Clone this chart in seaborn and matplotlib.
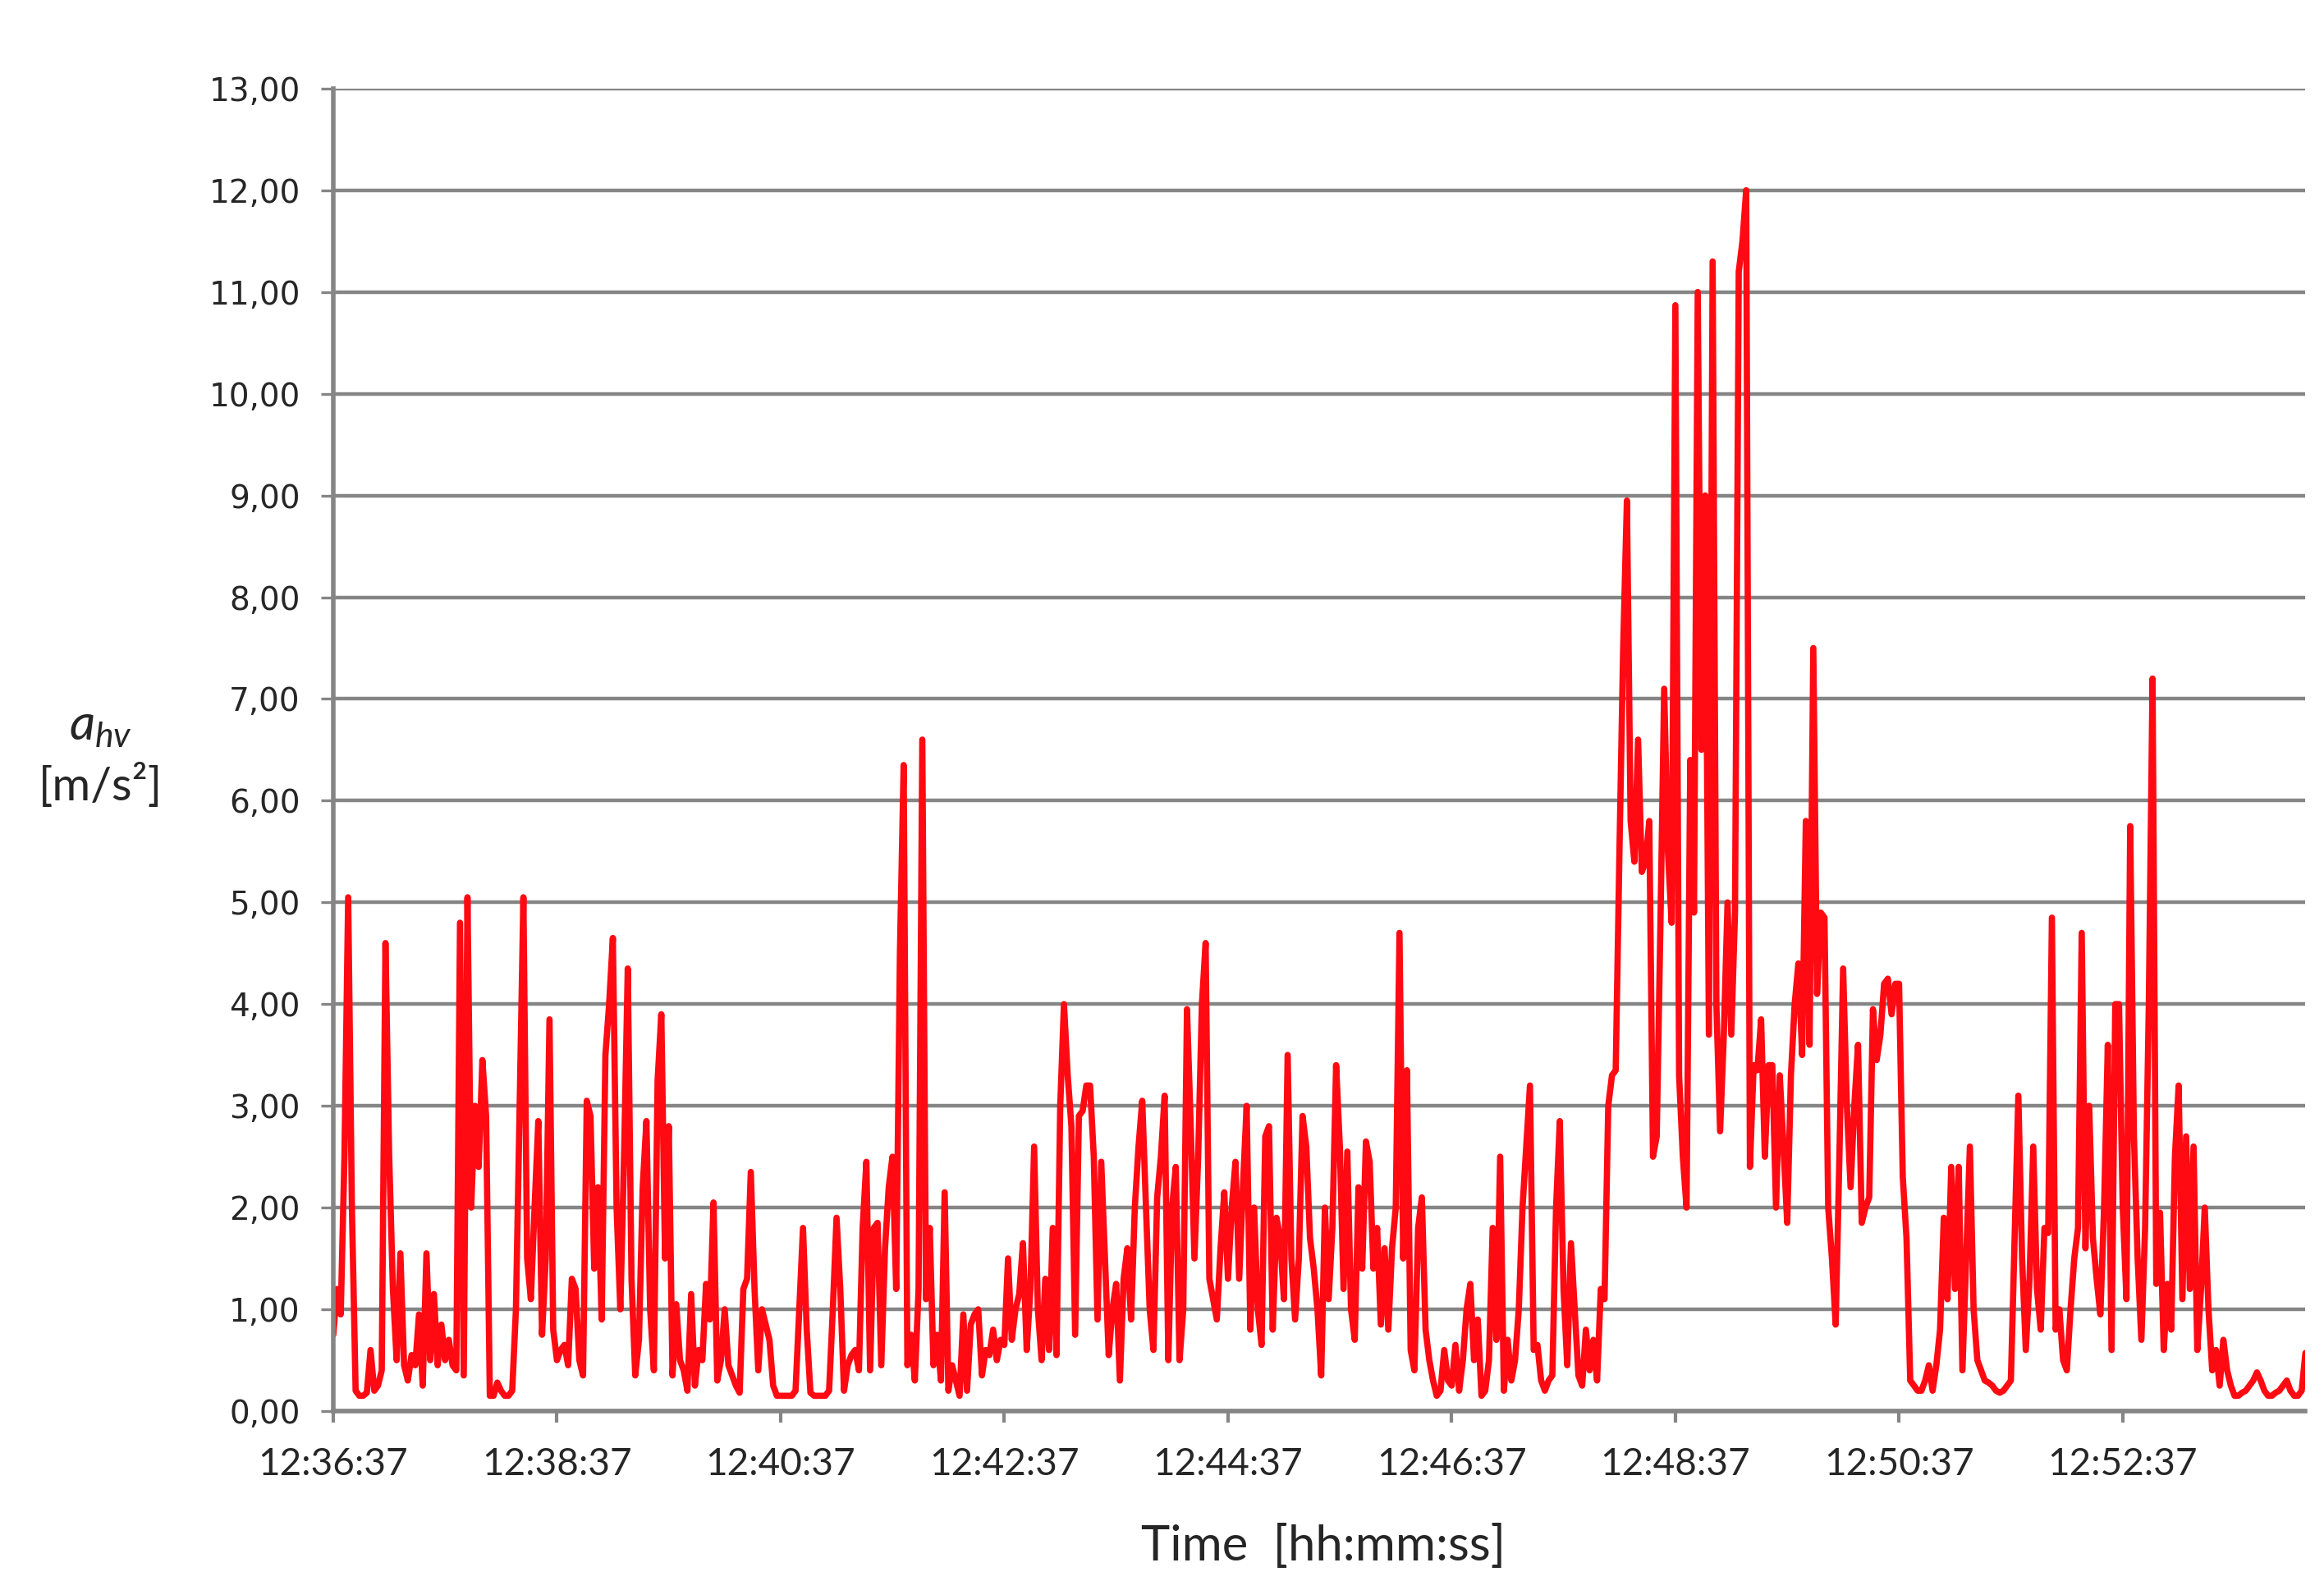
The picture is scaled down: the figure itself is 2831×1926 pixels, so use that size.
import matplotlib
matplotlib.use("Agg")
import matplotlib.pyplot as plt
import matplotlib.dates as mdates
from matplotlib.ticker import FixedLocator, FuncFormatter
import numpy as np
import pandas as pd
import seaborn as sns

# Messreihe a_hv, ein Wert alle 2 s ab 12:36:37
START = "12:36:37"
STEP_S = 2

seg_1236 = [0.75, 1.2, 0.95, 2.5, 5.05, 2.0, 0.2, 0.15, 0.15, 0.18,
            0.6, 0.2, 0.25, 0.4, 4.6, 2.5, 1.2, 0.5, 1.55, 0.45,
            0.3, 0.55, 0.45, 0.95, 0.25, 1.55, 0.5, 1.15, 0.45, 0.85,
            0.5, 0.7, 0.45, 0.4, 4.8, 0.35, 5.05, 2.0, 3.0, 2.4,
            3.45, 2.9, 0.15, 0.15, 0.28, 0.2, 0.15, 0.15, 0.2, 1.0,
            3.0, 5.05, 1.5, 1.1, 2.0, 2.85, 0.75, 1.5, 3.85, 0.8]
seg_1238 = [0.5, 0.6, 0.65, 0.45, 1.3, 1.2, 0.5, 0.35, 3.05, 2.9,
            1.4, 2.2, 0.9, 3.5, 4.0, 4.65, 2.0, 1.0, 2.5, 4.35,
            1.3, 0.35, 0.7, 2.2, 2.85, 1.0, 0.4, 3.25, 3.9, 1.5,
            2.8, 0.35, 1.05, 0.5, 0.4, 0.2, 1.15, 0.25, 0.6, 0.5,
            1.25, 0.9, 2.05, 0.3, 0.5, 1.0, 0.45, 0.35, 0.25, 0.18,
            1.2, 1.3, 2.35, 1.2, 0.4, 1.0, 0.85, 0.7, 0.25, 0.15]
seg_1240 = [0.15, 0.15, 0.15, 0.15, 0.2, 1.0, 1.8, 0.8, 0.18, 0.15,
            0.15, 0.15, 0.15, 0.2, 1.0, 1.9, 1.2, 0.2, 0.45, 0.55,
            0.6, 0.4, 1.8, 2.45, 0.4, 1.8, 1.85, 0.45, 1.6, 2.2,
            2.5, 1.2, 4.5, 6.35, 0.45, 0.75, 0.3, 1.2, 6.6, 1.1,
            1.8, 0.45, 0.75, 0.3, 2.15, 0.2, 0.45, 0.3, 0.15, 0.95,
            0.2, 0.85, 0.95, 1.0, 0.35, 0.6, 0.55, 0.8, 0.5, 0.7]
seg_1242 = [0.65, 1.5, 0.7, 1.0, 1.15, 1.65, 0.6, 1.2, 2.6, 1.0,
            0.5, 1.3, 0.6, 1.8, 0.55, 3.0, 4.0, 3.3, 2.8, 0.75,
            2.9, 2.95, 3.2, 3.2, 2.5, 0.9, 2.45, 1.5, 0.55, 1.0,
            1.25, 0.3, 1.3, 1.6, 0.9, 2.0, 2.6, 3.05, 2.0, 1.0,
            0.6, 2.1, 2.5, 3.1, 0.5, 2.0, 2.4, 0.5, 1.0, 3.95,
            2.8, 1.5, 2.5, 4.0, 4.6, 1.3, 1.1, 0.9, 1.6, 2.15]
seg_1244 = [1.3, 2.0, 2.45, 1.3, 2.2, 3.0, 0.8, 2.0, 1.0, 0.65,
            2.7, 2.8, 0.8, 1.9, 1.7, 1.1, 3.5, 1.5, 0.9, 1.5,
            2.9, 2.6, 1.7, 1.4, 1.0, 0.35, 2.0, 1.1, 1.8, 3.4,
            2.6, 1.2, 2.55, 1.0, 0.7, 2.2, 1.4, 2.65, 2.45, 1.4,
            1.8, 0.85, 1.6, 0.8, 1.6, 2.0, 4.7, 1.5, 3.35, 0.6,
            0.4, 1.8, 2.1, 0.8, 0.5, 0.3, 0.15, 0.2, 0.6, 0.3]
seg_1246 = [0.25, 0.65, 0.2, 0.5, 1.0, 1.25, 0.5, 0.9, 0.15, 0.2,
            0.5, 1.8, 0.7, 2.5, 0.2, 0.7, 0.3, 0.5, 1.0, 2.0,
            2.6, 3.2, 0.6, 0.65, 0.3, 0.2, 0.3, 0.35, 2.0, 2.85,
            1.2, 0.45, 1.65, 1.0, 0.35, 0.25, 0.8, 0.4, 0.7, 0.3,
            1.2, 1.1, 3.0, 3.3, 3.35, 5.5, 7.5, 8.95, 5.8, 5.4,
            6.6, 5.3, 5.4, 5.8, 2.5, 2.7, 4.8, 7.1, 5.5, 4.8]
seg_1248 = [10.87, 3.3, 2.5, 2.0, 6.4, 4.9, 11.0, 6.5, 9.0, 3.7,
            11.3, 4.0, 2.75, 3.7, 5.0, 3.7, 4.9, 11.2, 11.5, 12.0,
            2.4, 3.4, 3.35, 3.85, 2.5, 3.4, 3.4, 2.0, 3.3, 2.6,
            1.85, 3.3, 4.0, 4.4, 3.5, 5.8, 3.6, 7.5, 4.1, 4.9,
            4.85, 2.0, 1.5, 0.85, 2.5, 4.35, 3.0, 2.2, 3.0, 3.6,
            1.85, 2.0, 2.1, 3.95, 3.45, 3.7, 4.2, 4.25, 3.9, 4.2]
seg_1250 = [4.2, 2.3, 1.7, 0.3, 0.25, 0.2, 0.2, 0.3, 0.45, 0.2,
            0.45, 0.8, 1.9, 1.1, 2.4, 1.2, 2.4, 0.4, 1.5, 2.6,
            1.0, 0.5, 0.4, 0.3, 0.28, 0.25, 0.2, 0.18, 0.2, 0.25,
            0.3, 1.7, 3.1, 1.5, 0.6, 1.3, 2.6, 1.2, 0.8, 1.8,
            1.75, 4.85, 0.8, 1.0, 0.5, 0.4, 1.0, 1.5, 1.8, 4.7,
            1.6, 3.0, 1.7, 1.3, 0.95, 2.0, 3.6, 0.6, 4.0, 4.0]
seg_1252 = [2.0, 1.1, 5.75, 2.7, 1.5, 0.7, 1.8, 4.0, 7.2, 1.25,
            1.95, 0.6, 1.25, 0.8, 2.5, 3.2, 1.1, 2.7, 1.2, 2.6,
            0.6, 1.2, 2.0, 1.0, 0.4, 0.6, 0.25, 0.7, 0.4, 0.25,
            0.15, 0.15, 0.18, 0.2, 0.25, 0.3, 0.38, 0.3, 0.2, 0.15,
            0.15, 0.18, 0.2, 0.25, 0.3, 0.2, 0.15, 0.15, 0.2, 0.57]

X_TICK_LABELS = ["12:36:37", "12:38:37", "12:40:37", "12:42:37", "12:44:37",
                 "12:46:37", "12:48:37", "12:50:37", "12:52:37"]
Y_TICKS = list(range(0, 14))

values = np.array(seg_1236 + seg_1238 + seg_1240 + seg_1242 + seg_1244
                  + seg_1246 + seg_1248 + seg_1250 + seg_1252)
t0 = pd.Timestamp("2000-01-01 " + START)
times = t0 + pd.to_timedelta(np.arange(len(values)) * STEP_S, unit="s")
df = pd.DataFrame({"time": times, "ahv": values})

sns.set_theme(style="white")
plt.rcParams["font.family"] = ["Lato", "DejaVu Sans"]
plt.rcParams["mathtext.fontset"] = "custom"
plt.rcParams["mathtext.rm"] = "Lato"
plt.rcParams["mathtext.it"] = "Lato:italic"

GRID = "#858585"

fig = plt.figure(figsize=(28.31, 19.26), dpi=100)
ax = fig.add_axes([0.1434, 0.1075, 0.8486, 0.8365])
sns.lineplot(data=df, x="time", y="ahv", color="#ff0a12", linewidth=5.5, ax=ax)

ax.set_xlim(df["time"].iloc[0], df["time"].iloc[-1])
ax.set_ylim(0, 13)
ax.set_yticks(Y_TICKS)
ax.yaxis.set_major_formatter(FuncFormatter(lambda v, _: f"{v:.2f}".replace(".", ",")))
tick_times = [mdates.date2num(pd.Timestamp("2000-01-01 " + s)) for s in X_TICK_LABELS]
ax.xaxis.set_major_locator(FixedLocator(tick_times))
ax.xaxis.set_major_formatter(mdates.DateFormatter("%H:%M:%S"))

ax.yaxis.grid(True, color=GRID, linewidth=3.2)
ax.xaxis.grid(False)
ax.set_axisbelow(True)
for side in ("top", "right"):
    ax.spines[side].set_visible(False)
for side in ("left", "bottom"):
    ax.spines[side].set_color(GRID)
    ax.spines[side].set_linewidth(4)

ax.tick_params(axis="y", left=True, length=11, width=2.4, color=GRID,
               direction="out", pad=18, labelsize=28)
for lab in ax.get_yticklabels():
    lab.set_family("DejaVu Sans")
ax.tick_params(axis="x", bottom=True, length=10, width=3, color=GRID,
               direction="out", pad=22, labelsize=33)
ax.set_xlabel("")
ax.set_ylabel("")

fig.text(0.0434, 0.5405, r"$a_{hv}$", fontsize=44, ha="center", va="center")
fig.text(0.0434, 0.503, "[m/s²]", fontsize=41, ha="center", va="center")
fig.text(0.5695, 0.022, "Time  [hh:mm:ss]", fontsize=43, ha="center", va="center")

fig.savefig("out.png", dpi=100)
